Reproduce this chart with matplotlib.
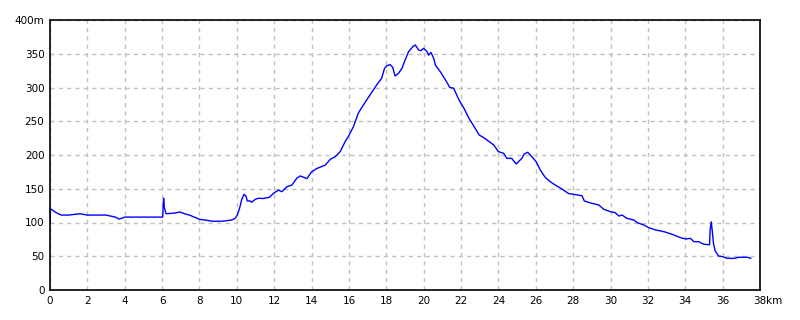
import matplotlib
matplotlib.use("agg")
import matplotlib.pyplot as plt

# distance (km) / elevation (m)
dist = [0.0, 0.02, 0.05, 0.3, 0.6, 1.0, 1.6, 2.0, 2.5, 3.0, 3.5, 3.7, 4.0, 4.5, 5.0, 5.35,
        6.03, 6.08, 6.12, 6.21, 6.69, 6.96, 7.2, 7.5, 7.76, 8.0, 8.3, 8.74, 9.28, 9.72, 9.9,
        10.03, 10.17, 10.25, 10.38, 10.49, 10.56, 10.7, 10.79, 10.97, 11.15, 11.42, 11.74,
        12.0, 12.23, 12.41, 12.68, 12.95, 13.2, 13.39, 13.75, 14.0, 14.28, 14.73, 15.0,
        15.27, 15.53, 15.8, 16.0, 16.24, 16.5, 16.77, 17.13, 17.48, 17.75, 17.9, 18.02,
        18.2, 18.34, 18.47, 18.65, 18.83, 19.01, 19.19, 19.42, 19.55, 19.73, 19.85, 20.0,
        20.18, 20.27, 20.39, 20.54, 20.63, 20.9, 21.17, 21.4, 21.6, 21.9, 22.16, 22.43,
        22.7, 22.97, 23.2, 23.4, 23.75, 24.0, 24.28, 24.45, 24.71, 24.95, 25.25, 25.38,
        25.57, 25.79, 26.02, 26.24, 26.5, 26.77, 27.04, 27.4, 27.75, 28.02, 28.47, 28.6,
        29.0, 29.37, 29.64, 30.0, 30.26, 30.44, 30.62, 30.89, 31.25, 31.43, 31.79, 32.05,
        32.41, 32.86, 33.3, 33.75, 34.02, 34.28, 34.46, 34.73, 34.88, 35.06, 35.3, 35.33,
        35.39, 35.44, 35.51, 35.6, 35.78, 36.0, 36.23, 36.6, 36.87, 37.32, 37.5]
elev = [98, 118, 120, 115, 111, 111, 113, 111, 111, 111, 108, 105, 108, 108, 108, 108,
        108, 136, 122, 113, 114, 115.5, 113, 110.6, 107.6, 104.7, 103.7, 101.7, 102, 103.7, 106,
        111, 123.5, 133, 141.7, 139, 132, 132, 130, 134, 136, 135.5, 137.4,
        144, 148, 145.6, 153, 155.5, 165.4, 169, 165, 175, 180, 185, 193.6,
        197.5, 205, 220, 229, 242, 262, 274, 289, 303.7, 313.6, 328, 332,
        334, 330, 317, 321, 328, 341, 353, 360.5, 363, 355.6, 354.6, 358,
        353, 348, 352, 343, 333, 323, 311, 300, 299, 281, 269, 254,
        242, 229.6, 226, 222, 214.8, 205, 202.5, 195, 195, 186.7, 195, 201.5,
        204, 197.5, 190, 177.8, 167, 160.5, 155.5, 149.6, 143, 141.7, 139.7, 131.8,
        128.4, 126, 119.5, 116, 114.5, 109.6, 111, 106, 103.7, 99.7, 96.3, 92.3,
        89, 86.4, 82.5, 77.5, 75.6, 76.5, 71.6, 71.6, 69, 67.6, 67, 89,
        101, 89, 69, 58, 50.4, 49.4, 47, 46.8, 48.5, 48.5, 47]

xticks = list(range(0, 39, 2))
xlabels = [str(v) for v in xticks]
yticks = list(range(0, 401, 50))
ylabels = [str(v) for v in yticks[:-1]] + ["400m"]

fig = plt.figure(figsize=(8, 3.2), dpi=100)
ax = fig.add_axes([0.0625, 0.09375, 0.8875, 0.84375])

ax.plot(dist, elev, color="#0000ff", lw=1.0)

ax.set_xlim(0, 38)
ax.set_ylim(0, 400)
ax.set_xticks(xticks)
ax.set_xticklabels(xlabels)
ax.set_yticks(yticks)
ax.set_yticklabels(ylabels)
ax.tick_params(length=0, labelsize=7.5, pad=4)
# unit after the last x tick label
ax.annotate("km", xy=(1.0, 0.0), xycoords="axes fraction", xytext=(4.5, -4),
            textcoords="offset points", ha="left", va="top", fontsize=7.5)

ax.grid(True, color="#c0c0c0", linestyle=(0, (3, 3)), lw=1)
for s in ax.spines.values():
    s.set_color("black")
    s.set_linewidth(1.2)

fig.savefig("out.png", dpi=100)
